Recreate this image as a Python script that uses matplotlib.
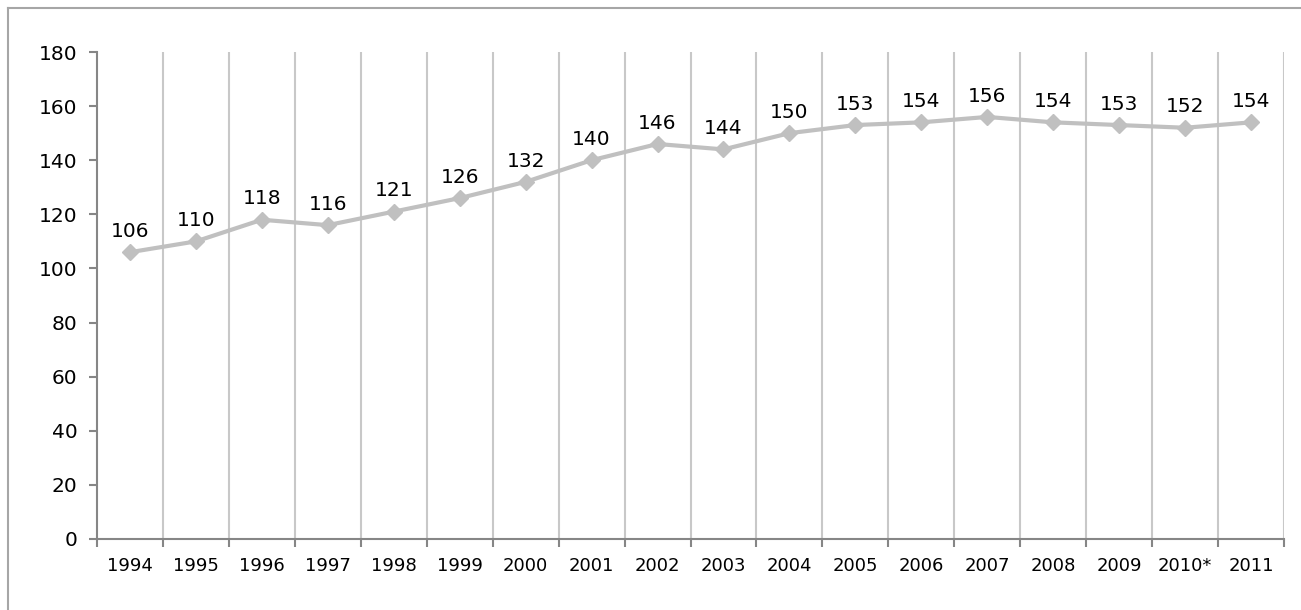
import numpy as np
import matplotlib.pyplot as plt
from matplotlib.lines import Line2D

years = ['1994', '1995', '1996', '1997', '1998', '1999', '2000', '2001', '2002',
         '2003', '2004', '2005', '2006', '2007', '2008', '2009', '2010*', '2011']
values = [106, 110, 118, 116, 121, 126, 132, 140, 146,
          144, 150, 153, 154, 156, 154, 153, 152, 154]

W, H = 1301, 610
fig = plt.figure(figsize=(W / 100, H / 100), dpi=100)
ax = fig.add_axes([97 / W, 1 - 539 / H, (1284 - 97) / W, (539 - 52) / H])

# outer frame: only top and left edges are inside the picture
fig.lines.append(Line2D([8 / W, 1], [1 - 8 / H, 1 - 8 / H], transform=fig.transFigure,
                        color='#a6a6a6', linewidth=1.5))
fig.lines.append(Line2D([8 / W, 8 / W], [0, 1 - 8 / H], transform=fig.transFigure,
                        color='#a6a6a6', linewidth=1.5))

n = len(years)
x = np.arange(n)
ax.plot(x, values, color='#c0c0c0', linewidth=3, marker='D', markersize=8.5,
        markeredgecolor='#c0c0c0', markerfacecolor='#c0c0c0', zorder=3)
for xi, v in zip(x, values):
    ax.annotate(str(v), (xi, v), xytext=(0, 15), textcoords='offset points',
                ha='center', va='center', fontsize=14.5, color='black')

ax.set_xlim(-0.5, n - 0.5)
ax.set_ylim(0, 180)
ax.set_yticks(range(0, 181, 20))

# category boundaries: gridlines and ticks
bounds = np.arange(-0.5, n, 1.0)
ax.set_xticks(bounds)
ax.set_xticklabels([])
ax.set_xticks(x, minor=True)
ax.set_xticklabels(years, minor=True, fontsize=13)
ax.tick_params(axis='x', which='minor', length=0, pad=13)
ax.tick_params(axis='x', which='major', length=6, color='#868686', width=1.5)
ax.tick_params(axis='y', length=6, color='#868686', width=1.5, labelsize=14.5, pad=8)
for b in bounds[1:]:
    ax.axvline(b, color='#c8c8c8', linewidth=1.5, zorder=1)

for s in ['top', 'right']:
    ax.spines[s].set_visible(False)
for s in ['left', 'bottom']:
    ax.spines[s].set_color('#868686')
    ax.spines[s].set_linewidth(1.5)

fig.savefig('out.png', dpi=100)
